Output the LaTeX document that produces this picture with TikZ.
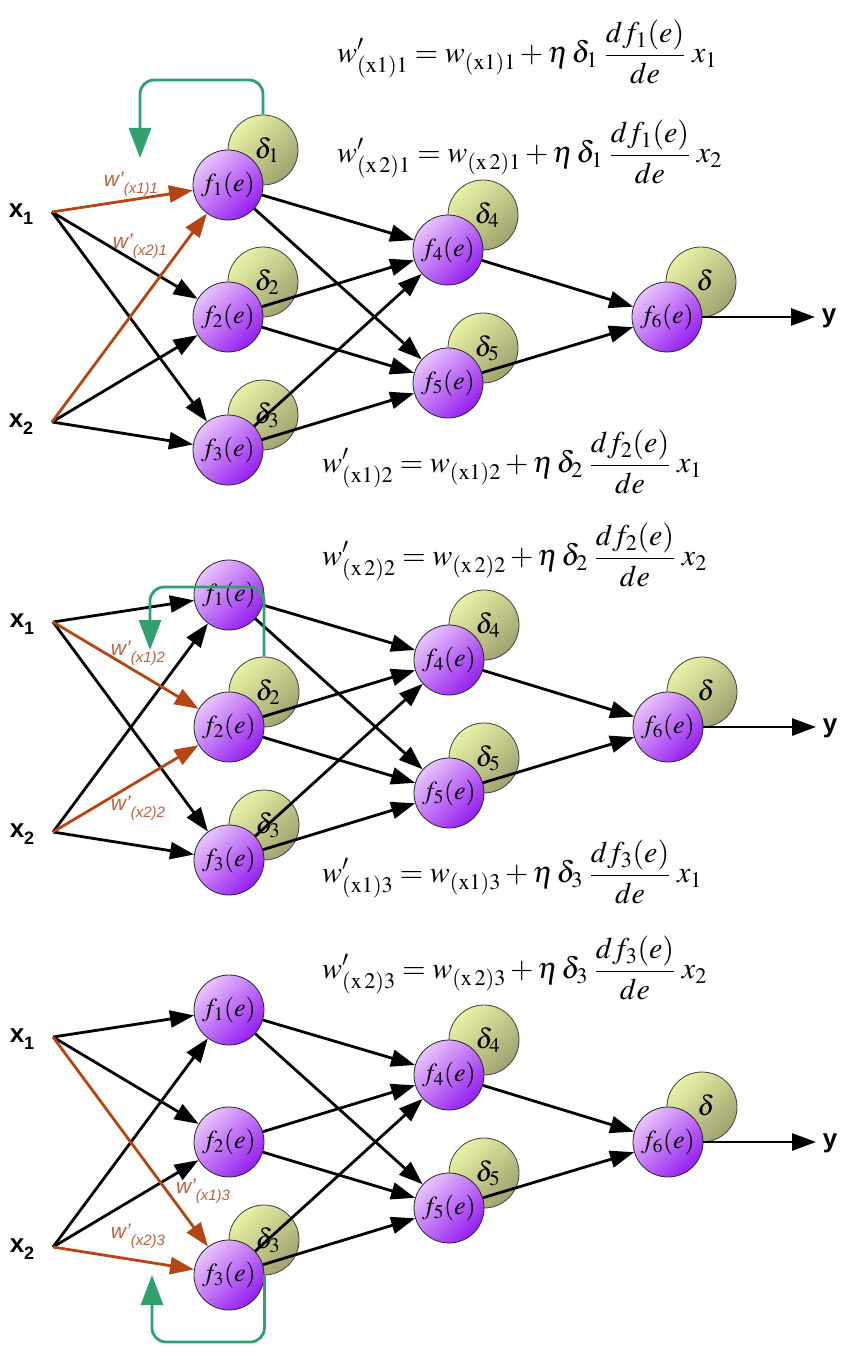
\documentclass[tikz,border=0pt]{standalone}
\usepackage{mathptmx}
\usepackage[no-math]{fontspec}
\setmainfont{Liberation Serif}
\setsansfont{Liberation Sans}
\usetikzlibrary{arrows.meta}
\definecolor{fl}{RGB}{232,196,252}
\definecolor{fd}{RGB}{150,30,240}
\definecolor{dl}{RGB}{232,242,165}
\definecolor{dd}{RGB}{160,162,112}
\definecolor{brn}{RGB}{180,70,20}
\definecolor{brnl}{RGB}{182,100,66}
\definecolor{grn}{RGB}{48,160,110}
\tikzset{
  fnode/.style={circle, draw=black!85, line width=0.8pt, minimum size=70pt, inner sep=0pt,
    top color=fl, bottom color=fd, shading angle=45, font=\fontsize{26}{26}\selectfont},
  dnode/.style={circle, draw=black!75, line width=0.8pt, minimum size=70pt, inner sep=0pt,
    top color=dl, bottom color=dd, shading angle=45, font=\fontsize{28}{28}\selectfont},
  ed/.style={line width=2.8pt, -{Triangle[length=24pt,width=17pt]}},
  bed/.style={ed, draw=brn, color=brn},
  gloop/.style={line width=2.8pt, draw=grn, color=grn, rounded corners=14pt, -{Triangle[length=30pt,width=22pt]}},
  xlab/.style={font=\sffamily\bfseries\fontsize{26}{26}\selectfont},
  wlab/.style={text=brnl, font=\sffamily\itshape\fontsize{21}{21}\selectfont},
  eqn/.style={anchor=west, font=\fontsize{30}{30}\selectfont, inner sep=0pt},
}
\newcommand\xsub[1]{x\raisebox{-7pt}{\fontsize{18}{18}\selectfont #1}}
\newcommand\wsub[1]{w'\raisebox{-7pt}{\fontsize{15}{15}\selectfont #1}}
\newcommand\dtxt[1]{\hspace*{8pt}\raisebox{4pt}{#1}}
\newcommand\upd[4]{$\displaystyle w'_{\mathrm{(#1)#2}} = w_{\mathrm{(#1)#2}} + \eta\,\delta_{#2}\;\frac{df_{#2}(e)}{de}\;x_{#3}$#4}
% #1 suffix, #2 index of the first-layer node fed by the brown arrows
\newcommand\netcore[2]{%
  \node[fnode] (f1#1) at (228,-185) {$f_{1}(e)$};
  \node[fnode] (f2#1) at (228,-317) {$f_{2}(e)$};
  \node[fnode] (f3#1) at (228,-450) {$f_{3}(e)$};
  \node[fnode] (f4#1) at (448,-250) {$f_{4}(e)$};
  \node[fnode] (f5#1) at (448,-383) {$f_{5}(e)$};
  \node[fnode] (f6#1) at (667,-317) {$f_{6}(e)$};
  \coordinate (xa#1) at (52,-212);
  \coordinate (xb#1) at (52,-422);
  \coordinate (yo#1) at (815,-317);
  \node[xlab] (lx1#1) at (21,-214) {\xsub{1}};
  \node[xlab] (lx2#1) at (21,-424) {\xsub{2}};
  \node[xlab] (ly#1) at (829,-318) {y};
  \foreach \k in {1,2,3}{%
    \ifnum\k=#2\else
      \draw[ed] (xa#1) -- (f\k#1);
      \draw[ed] (xb#1) -- (f\k#1);
    \fi}
  \foreach \k in {1,2,3}{%
    \draw[ed] (f\k#1) -- (f4#1);
    \draw[ed] (f\k#1) -- (f5#1);}
  \draw[ed] (f4#1) -- (f6#1);
  \draw[ed] (f5#1) -- (f6#1);
  \draw[ed] (f6#1) -- (yo#1);
  \draw[bed] (xa#1) -- (f#2#1);
  \draw[bed] (xb#1) -- (f#2#1);
}
\newcommand\dcirc[3]{\node[dnode] (#1) at (#2) {\dtxt{#3}};}
\begin{document}
\begin{tikzpicture}[x=1pt,y=1pt]
\useasboundingbox (0,0) rectangle (849,-1356);
\fill[white] (0,0) rectangle (849,-1356);
% ---------- panel 1 ----------
\begin{scope}
  \dcirc{d1a}{263,-150}{$\delta_{1}$}
  \dcirc{d2a}{263,-282}{$\delta_{2}$}
  \dcirc{d3a}{263,-415}{$\delta_{3}$}
  \dcirc{d4a}{483,-215}{$\delta_{4}$}
  \dcirc{d5a}{483,-348}{$\delta_{5}$}
  \dcirc{d6a}{701,-282}{$\delta$}
  \netcore{a}{1}
  \node[wlab] (wa1) at (131,-184) {\wsub{(x1)1}};
  \node[wlab] (wa2) at (140,-246) {\wsub{(x2)1}};
  \coordinate (gca) at (140,-80);
  \coordinate (gta) at (140,-158);
  \draw[gloop] (d1a.north) |- (gca) -- (gta);
\end{scope}
% ---------- panel 2 ----------
\begin{scope}[shift={(1,-410)}]
  \dcirc{d2b}{263,-282}{$\delta_{2}$}
  \dcirc{d3b}{263,-415}{$\delta_{3}$}
  \dcirc{d4b}{483,-215}{$\delta_{4}$}
  \dcirc{d5b}{483,-348}{$\delta_{5}$}
  \dcirc{d6b}{701,-282}{$\delta$}
  \netcore{b}{2}
  \node[wlab] (wb1) at (137,-243) {\wsub{(x1)2}};
  \node[wlab] (wb2) at (137,-398) {\wsub{(x2)2}};
  \coordinate (gcb) at (149,-177);
  \coordinate (gtb) at (149,-240);
  \draw[gloop] (d2b.north) |- (gcb) -- (gtb);
\end{scope}
% ---------- panel 3 ----------
\begin{scope}[shift={(1,-825)}]
  \dcirc{d3c}{263,-415}{$\delta_{3}$}
  \dcirc{d4c}{483,-215}{$\delta_{4}$}
  \dcirc{d5c}{483,-348}{$\delta_{5}$}
  \dcirc{d6c}{701,-282}{$\delta$}
  \netcore{c}{3}
  \node[wlab] (wc1) at (202,-366) {\wsub{(x1)3}};
  \node[wlab] (wc2) at (137,-411) {\wsub{(x2)3}};
  \coordinate (gcc) at (151,-517);
  \coordinate (gtc) at (151,-450);
  \draw[gloop] (f3c.east) |- (gcc) -- (gtc);
\end{scope}
% ---------- equations ----------
\node[eqn] (e1) at (337,-52)  {\upd{x1}{1}{1}{}};
\node[eqn] (e2) at (337,-152) {\upd{x\,2}{1}{2}{}};
\node[eqn] (e3) at (322,-462) {\upd{x1}{2}{1}{}};
\node[eqn] (e4) at (322,-555) {\upd{x\,2}{2}{2}{}};
\node[eqn] (e5) at (322,-872) {\upd{x1}{3}{1}{}};
\node[eqn] (e6) at (322,-968) {\upd{x\,2}{3}{2}{}};
\end{tikzpicture}
\end{document}
